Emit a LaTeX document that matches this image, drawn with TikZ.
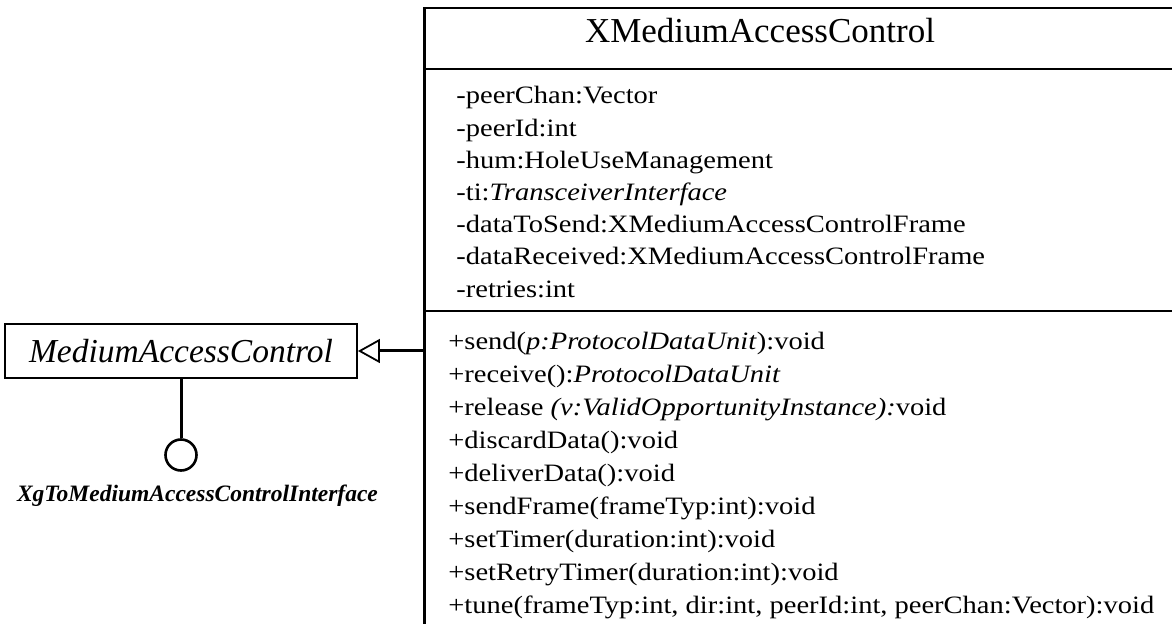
\documentclass[tikz,border=0pt]{standalone}
\usepackage{fontspec}
\setmainfont{Liberation Serif}
\newfontfamily\rowfont[FakeStretch=1.14]{Liberation Serif}
\usetikzlibrary{arrows.meta}

\begin{document}
\begin{tikzpicture}[
	x=0.5pt, y=-0.5pt,
	classbox/.style={
		rectangle,
		draw=black,
		line width=1.2pt,
		minimum width=377.5pt,
		minimum height=316pt
	},
	ifacebox/.style={
		rectangle,
		draw=black,
		line width=0.9pt,
		minimum width=176pt,
		minimum height=27pt,
		font=\fontsize{16.75}{20}\selectfont\itshape
	},
	divider/.style={line width=1.2pt},
	attr/.style={anchor=base west, inner sep=0pt, font=\rowfont\fontsize{12.5}{15}\selectfont},
	oper/.style={anchor=base west, inner sep=0pt, font=\rowfont\fontsize{12.5}{15}\selectfont},
	realize/.style={-{Triangle[open, length=11pt, width=12pt, line width=0.9pt]}, line width=1.5pt},
	stem/.style={line width=1.5pt},
	lolly/.style={circle, draw=black, line width=1.3pt, minimum size=15.5pt, inner sep=0pt}
]
\useasboundingbox (0,0) rectangle (1172,624);
\clip (0,0) rectangle (1172,624);

% Class XMediumAccessControl
\node[classbox] (xmac) at (802,324) {};
\node[anchor=base, font=\fontsize{17.5}{21}\selectfont] (title) at (760,43) {XMediumAccessControl};
\draw[divider] (425,69) -- (1180,69);
\draw[divider] (425,311) -- (1180,311);

% Attributes
\foreach \txt [count=\i from 0] in {
	-peerChan:Vector,
	-peerId:int,
	-hum:HoleUseManagement,
	-ti:\textit{TransceiverInterface},
	-dataToSend:XMediumAccessControlFrame,
	-dataReceived:XMediumAccessControlFrame,
	-retries:int}
	\node[attr] (attr\i) at (456,{104+32.2*\i}) {\txt};

% Operations
\foreach \txt [count=\i from 0] in {
	{+send(\textit{p:ProtocolDataUnit}):void},
	{+receive():\textit{ProtocolDataUnit}},
	{+release \textit{(v:ValidOpportunityInstance):}void},
	{+discardData():void},
	{+deliverData():void},
	{+sendFrame(frameTyp:int):void},
	{+setTimer(duration:int):void},
	{+setRetryTimer(duration:int):void},
	{+tune(frameTyp:int, dir:int, peerId:int, peerChan:Vector):void}}
	\node[oper] (op\i) at (448,{350+32.9*\i}) {\txt};

% Interface MediumAccessControl
\node[ifacebox] (mac) at (181,351) {MediumAccessControl};
\node[lolly] (xgif) at (181,455) {};
\node[anchor=west, font=\fontsize{11.75}{14}\selectfont\bfseries\itshape] (xglabel) at (10,496) {XgToMediumAccessControlInterface};

% Connectors
\draw[realize] (xmac.west |- mac.east) -- (mac.east);
\draw[stem] (mac) -- (xgif);

\end{tikzpicture}
\end{document}
